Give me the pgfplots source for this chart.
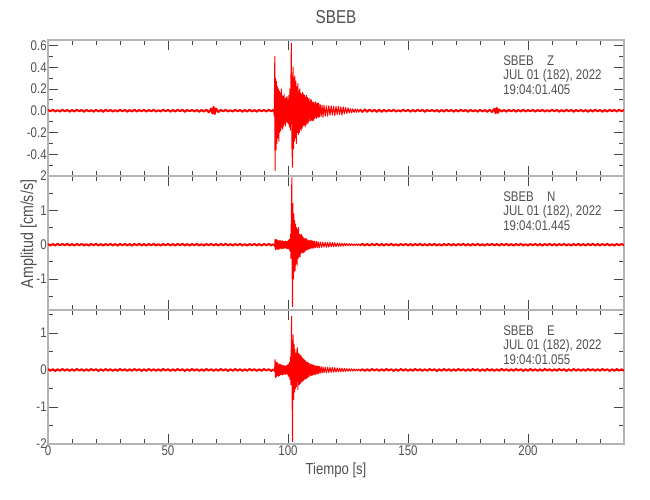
\documentclass[border=0pt]{standalone}
\usepackage{pgfplots}
\pgfplotsset{compat=1.18}
\usepackage{fontspec}
\setmainfont{Liberation Sans}[FakeStretch=0.82]
\definecolor{txt}{RGB}{80,80,80}
\definecolor{axg}{RGB}{180,180,180}
\definecolor{tk}{RGB}{70,70,70}
\pgfplotsset{
  seis/.style={
    scale only axis, width=432pt,
    xmin=0, xmax=240,
    xtick={0,50,100,150,200},
    minor xtick={10,20,30,40,60,70,80,90,110,120,130,140,160,170,180,190,210,220,230},
    xtick pos=both, ytick pos=both, tick align=inside,
    axis line style={axg, line width=1.5pt},
    tick style={tk, line width=0.6pt},
    major tick length=7.5pt, minor tick length=3.75pt,
    tick label style={font=\fontsize{10.5}{12}\selectfont, text=txt},
    yticklabel style={inner sep=0.8pt},
    xticklabel style={inner sep=1.2pt},
    /pgf/number format/assume math mode=true,
  },
  tr/.style={red, line width=0.75pt, no markers, line join=round},
  bl/.style={red, line width=1.5pt, no markers, line join=round}
}
\begin{document}
\begin{tikzpicture}
\useasboundingbox (0,0) rectangle (487.5pt,375pt);
% ---------- Panel 1 (Z) ----------
\begin{axis}[seis, at={(36pt,243pt)}, anchor=south west, height=102pt,
  ymin=-0.6, ymax=0.65,
  ytick={-0.4,-0.2,0,0.2,0.4,0.6},
  minor ytick={-0.5,-0.3,-0.1,0.1,0.3,0.5},
  xticklabels={},
  yticklabel style={/pgf/number format/.cd, fixed, fixed zerofill, precision=1}]
\addplot[bl] coordinates {
(0,0.008)(1,-0.006)(2,0.009)(3,-0.007)(4,0.005)(5,-0.008)(6,0.01)(7,-0.006)(8,0.007)(9,-0.009)(10,0.006)(11,-0.008)(12,0.009)(13,-0.005)(14,0.007)(15,-0.01)(16,0.008)(17,-0.006)(18,0.005)(19,-0.009)(20,0.008)(21,-0.007)(22,0.006)(23,-0.01)(24,0.009)(25,-0.006)(26,0.007)(27,-0.008)(28,0.005)(29,-0.007)(30,0.009)(31,-0.006)(32,0.008)(33,-0.009)(34,0.006)(35,-0.007)(36,0.01)(37,-0.008)(38,0.006)(39,-0.005)(40,0.008)(41,-0.009)(42,0.007)(43,-0.006)(44,0.009)(45,-0.008)(46,0.005)(47,-0.007)(48,0.01)(49,-0.006)(50,0.008)(51,-0.009)(52,0.006)(53,-0.007)(54,0.009)(55,-0.005)(56,0.008)(57,-0.01)(58,0.007)(59,-0.006)(60,0.008)(61,-0.007)(62,0.006)(63,-0.009)(64,0.007)(65,-0.008)(66,0.01)(67,-0.015)(68,0.02)(68.5,-0.025)(69,0.035)(69.5,-0.03)(70,0.02)(71,-0.012)(72,0.008)(73,-0.006)(74,0.009)(75,-0.007)(76,0.005)(77,-0.008)(78,0.009)(79,-0.006)(80,0.007)(81,-0.009)(82,0.006)(83,-0.008)(84,0.01)(85,-0.007)(86,0.006)(87,-0.009)(88,0.008)(89,-0.005)(90,0.007)(91,-0.008)(92,0.009)(93,-0.006)(94,0.01)
};
\addplot[tr] coordinates {
(94,0.01)(94.3,-0.05)(94.5,0.5)(94.6,-0.55)(94.8,0.3)(95,-0.36)(95.2,0.27)(95.4,-0.3)(95.6,0.22)(95.8,-0.25)(96,0.2)(96.2,-0.28)(96.4,0.18)(96.6,-0.2)(96.8,0.16)(97,-0.18)(97.2,0.2)(97.4,-0.15)(97.6,0.14)(97.8,-0.17)(98,0.13)(98.2,-0.14)(98.4,0.15)(98.6,-0.12)(98.8,0.11)(99,-0.14)(99.2,0.12)(99.4,-0.1)(99.6,0.13)(99.8,-0.11)(100,0.1)(100.2,-0.12)(100.4,0.14)(100.6,-0.15)(100.8,0.2)(101,-0.18)(101.2,0.25)(101.4,0.62)(101.6,-0.3)(101.9,-0.52)(102.1,0.4)(102.3,-0.35)(102.5,0.3)(102.7,-0.28)(102.9,0.32)(103.1,-0.25)(103.3,0.27)(103.5,-0.3)(103.7,0.22)(103.9,-0.2)(104.1,0.25)(104.3,-0.22)(104.5,0.18)(104.7,-0.2)(104.9,0.2)(105.1,-0.17)(105.3,0.16)(105.5,-0.18)(105.7,0.15)(105.9,-0.16)(106.1,0.17)(106.3,-0.14)(106.5,0.15)(106.7,-0.13)(106.9,0.14)(107.1,-0.15)(107.3,0.12)(107.5,-0.13)(107.7,0.14)(107.9,-0.11)(108.1,0.12)(108.3,-0.12)(108.5,0.11)(108.8,-0.1)(109.1,0.11)(109.4,-0.09)(109.7,0.1)(110,-0.09)(110.3,0.08)(110.6,-0.09)(110.9,0.08)(111.2,-0.07)(111.5,0.08)(111.8,-0.07)(112.1,0.07)(112.4,-0.06)(112.7,0.07)(113,-0.06)(113.4,0.06)(113.8,-0.055)(114.2,0.05)(114.6,-0.06)(115,0.05)(115.5,-0.05)(116,0.045)(116.5,-0.05)(117,0.045)(117.5,-0.04)(118,0.045)(118.5,-0.04)(119,0.04)(119.5,-0.045)(120,0.04)(120.5,-0.035)(121,0.04)(121.5,-0.035)(122,0.035)(122.5,-0.04)(123,0.035)(123.5,-0.03)(124,0.03)(124.5,-0.025)(125,0.025)(125.5,-0.02)(126,0.02)(126.5,-0.02)(127,0.018)(127.5,-0.017)(128,0.016)(128.5,-0.015)(129,0.015)(129.5,-0.014)(130,0.012)
};
\addplot[bl] coordinates {
(130,0.012)(131,-0.011)(132,0.012)(133,-0.01)(134,0.011)(135,-0.009)(136,0.01)(137,-0.011)(138,0.009)(139,-0.01)(140,0.008)
(141,-0.009)(142,0.007)(143,-0.006)(144,0.009)(145,-0.008)(146,0.005)(147,-0.007)(148,0.01)(149,-0.006)(150,0.008)(151,-0.009)(152,0.006)(153,-0.007)(154,0.009)(155,-0.005)(156,0.008)(157,-0.01)(158,0.007)(159,-0.006)(160,0.008)(161,-0.007)(162,0.006)(163,-0.009)(164,0.007)(165,-0.008)(166,0.01)(167,-0.006)(168,0.007)(169,-0.009)(170,0.006)(171,-0.008)(172,0.009)(173,-0.005)(174,0.007)(175,-0.01)(176,0.008)(177,-0.006)(178,0.005)(179,-0.009)(180,0.008)(181,-0.007)(182,0.006)(183,-0.01)(184,0.009)(185,-0.012)(186,0.018)(186.5,-0.022)(187,0.025)(187.5,-0.02)(188,0.012)(189,-0.008)(190,0.006)(191,-0.009)(192,0.007)(193,-0.006)(194,0.008)(195,-0.009)(196,0.006)(197,-0.007)(198,0.01)(199,-0.008)(200,0.006)(201,-0.005)(202,0.008)(203,-0.009)(204,0.007)(205,-0.006)(206,0.009)(207,-0.008)(208,0.005)(209,-0.007)(210,0.01)(211,-0.006)(212,0.008)(213,-0.009)(214,0.006)(215,-0.007)(216,0.009)(217,-0.005)(218,0.008)(219,-0.01)(220,0.007)(221,-0.006)(222,0.008)(223,-0.007)(224,0.006)(225,-0.009)(226,0.007)(227,-0.008)(228,0.01)(229,-0.006)(230,0.007)(231,-0.009)(232,0.006)(233,-0.008)(234,0.009)(235,-0.005)(236,0.007)(237,-0.008)(238,0.009)(239,-0.006)(240,0.008)
};
\end{axis}
% ---------- Panel 2 (N) ----------
\begin{axis}[seis, at={(36pt,142.5pt)}, anchor=south west, height=100.5pt,
  ymin=-1.9, ymax=2,
  ytick={-1,0,1,2},
  minor ytick={-1.5,-0.5,0.5,1.5},
  xticklabels={}]
\addplot[bl] coordinates {
(0,0.02)(1,-0.025)(2,0.018)(3,-0.022)(4,0.028)(5,-0.02)(6,0.024)(7,-0.017)(8,0.026)(9,-0.023)(10,0.019)(11,-0.027)(12,0.022)(13,-0.018)(14,0.025)(15,-0.021)(16,0.017)(17,-0.026)(18,0.023)(19,-0.019)(20,0.027)(21,-0.022)(22,0.018)(23,-0.025)(24,0.021)(25,-0.017)(26,0.026)(27,-0.023)(28,0.02)(29,-0.028)(30,0.022)(31,-0.018)(32,0.025)(33,-0.021)(34,0.019)(35,-0.026)(36,0.023)(37,-0.017)(38,0.027)(39,-0.022)(40,0.018)(41,-0.025)(42,0.021)(43,-0.019)(44,0.026)(45,-0.023)(46,0.017)(47,-0.027)(48,0.022)(49,-0.018)(50,0.025)(51,-0.021)(52,0.019)(53,-0.026)(54,0.023)(55,-0.017)(56,0.027)(57,-0.022)(58,0.018)(59,-0.025)(60,0.021)(61,-0.019)(62,0.026)(63,-0.023)(64,0.017)(65,-0.027)(66,0.022)(67,-0.018)(68,0.025)(69,-0.021)(70,0.019)(71,-0.026)(72,0.023)(73,-0.017)(74,0.027)(75,-0.022)(76,0.018)(77,-0.025)(78,0.021)(79,-0.019)(80,0.026)(81,-0.023)(82,0.017)(83,-0.027)(84,0.022)(85,-0.018)(86,0.025)(87,-0.021)(88,0.019)(89,-0.026)(90,0.023)(91,-0.017)(92,0.027)(93,-0.022)(94,0.02)
};
\addplot[tr] coordinates {
(94,0.02)(94.4,-0.06)(94.6,0.16)(94.8,-0.15)(95,0.14)(95.2,-0.12)(95.4,0.15)(95.6,-0.13)(95.8,0.12)(96,-0.14)(96.2,0.11)(96.4,-0.12)(96.6,0.13)(96.8,-0.1)(97,0.11)(97.2,-0.12)(97.4,0.1)(97.6,-0.11)(97.8,0.12)(98,-0.1)(98.2,0.09)(98.4,-0.11)(98.6,0.1)(98.8,-0.09)(99,0.1)(99.2,-0.1)(99.4,0.09)(99.6,-0.12)(99.8,0.1)(100,-0.11)(100.2,0.13)(100.4,-0.12)(100.6,0.15)(100.8,-0.18)(101,0.3)(101.2,-0.4)(101.4,0.9)(101.6,1.95)(101.8,-1.5)(101.9,-1.8)(102,1.2)(102.2,-1.0)(102.4,0.9)(102.6,-0.8)(102.8,0.7)(103,-0.75)(103.2,0.6)(103.4,-0.55)(103.6,0.5)(103.8,-0.6)(104,0.45)(104.2,-0.4)(104.4,0.5)(104.6,-0.35)(104.8,0.3)(105,-0.35)(105.2,0.28)(105.4,-0.25)(105.6,0.3)(105.8,-0.22)(106,0.25)(106.2,-0.24)(106.4,0.2)(106.6,-0.22)(106.8,0.18)(107,-0.2)(107.2,0.17)(107.4,-0.16)(107.6,0.18)(107.8,-0.15)(108,0.14)(108.3,-0.15)(108.6,0.13)(108.9,-0.12)(109.2,0.13)(109.5,-0.11)(109.8,0.12)(110.1,-0.1)(110.4,0.11)(110.7,-0.1)(111,0.1)(111.4,-0.09)(111.8,0.1)(112.2,-0.09)(112.6,0.08)(113,-0.09)(113.5,0.08)(114,-0.08)(114.5,0.075)(115,-0.07)(115.5,0.07)(116,-0.075)(116.5,0.065)(117,-0.07)(117.5,0.065)(118,-0.06)(118.5,0.065)(119,-0.06)(119.5,0.06)(120,-0.055)(120.5,0.05)(121,-0.05)(121.5,0.045)(122,-0.045)(122.5,0.04)(123,-0.04)(123.5,0.04)(124,-0.035)(124.5,0.035)(125,-0.03)(125.5,0.03)(126,-0.03)(126.5,0.028)(127,-0.027)(127.5,0.025)(128,-0.025)(128.5,0.025)(129,-0.023)(129.5,0.022)(130,-0.022)
};
\addplot[bl] coordinates {
(130,-0.022)(131,0.025)(132,-0.021)(133,0.019)(134,-0.026)(135,0.023)(136,-0.017)(137,0.027)(138,-0.022)(139,0.018)(140,-0.025)(141,0.021)(142,-0.019)(143,0.026)(144,-0.023)(145,0.017)(146,-0.027)(147,0.022)(148,-0.018)(149,0.025)(150,-0.021)(151,0.019)(152,-0.026)(153,0.023)(154,-0.017)(155,0.027)(156,-0.022)(157,0.018)(158,-0.025)(159,0.021)(160,-0.019)(161,0.026)(162,-0.023)(163,0.017)(164,-0.027)(165,0.022)(166,-0.018)(167,0.025)(168,-0.021)(169,0.019)(170,-0.026)(171,0.023)(172,-0.017)(173,0.027)(174,-0.022)(175,0.018)(176,-0.025)(177,0.021)(178,-0.019)(179,0.026)(180,-0.023)(181,0.017)(182,-0.027)(183,0.022)(184,-0.018)(185,0.025)(186,-0.021)(187,0.019)(188,-0.026)(189,0.023)(190,-0.017)(191,0.027)(192,-0.022)(193,0.018)(194,-0.025)(195,0.021)(196,-0.019)(197,0.026)(198,-0.023)(199,0.017)(200,-0.027)(201,0.022)(202,-0.018)(203,0.025)(204,-0.021)(205,0.019)(206,-0.026)(207,0.023)(208,-0.017)(209,0.027)(210,-0.022)(211,0.018)(212,-0.025)(213,0.021)(214,-0.019)(215,0.026)(216,-0.023)(217,0.017)(218,-0.027)(219,0.022)(220,-0.018)(221,0.025)(222,-0.021)(223,0.019)(224,-0.026)(225,0.023)(226,-0.017)(227,0.027)(228,-0.022)(229,0.018)(230,-0.025)(231,0.021)(232,-0.019)(233,0.026)(234,-0.023)(235,0.017)(236,-0.027)(237,0.022)(238,-0.018)(239,0.025)(240,-0.021)
};
\end{axis}
% ---------- Panel 3 (E) ----------
\begin{axis}[seis, at={(36pt,42pt)}, anchor=south west, height=100.5pt,
  ymin=-2, ymax=1.62,
  ytick={-2,-1,0,1},
  minor ytick={-1.5,-0.5,0.5,1.5}]
\addplot[bl] coordinates {
(0,0.025)(1,-0.02)(2,0.023)(3,-0.027)(4,0.018)(5,-0.022)(6,0.026)(7,-0.019)(8,0.021)(9,-0.025)(10,0.017)(11,-0.023)(12,0.027)(13,-0.018)(14,0.022)(15,-0.026)(16,0.019)(17,-0.021)(18,0.025)(19,-0.017)(20,0.023)(21,-0.027)(22,0.018)(23,-0.022)(24,0.026)(25,-0.019)(26,0.021)(27,-0.025)(28,0.017)(29,-0.023)(30,0.027)(31,-0.018)(32,0.022)(33,-0.026)(34,0.019)(35,-0.021)(36,0.025)(37,-0.017)(38,0.023)(39,-0.027)(40,0.018)(41,-0.022)(42,0.026)(43,-0.019)(44,0.021)(45,-0.025)(46,0.017)(47,-0.023)(48,0.027)(49,-0.018)(50,0.022)(51,-0.026)(52,0.019)(53,-0.021)(54,0.025)(55,-0.017)(56,0.023)(57,-0.027)(58,0.018)(59,-0.022)(60,0.026)(61,-0.019)(62,0.021)(63,-0.025)(64,0.017)(65,-0.023)(66,0.027)(67,-0.018)(68,0.022)(69,-0.026)(70,0.019)(71,-0.021)(72,0.025)(73,-0.017)(74,0.023)(75,-0.027)(76,0.018)(77,-0.022)(78,0.026)(79,-0.019)(80,0.021)(81,-0.025)(82,0.017)(83,-0.023)(84,0.027)(85,-0.018)(86,0.022)(87,-0.026)(88,0.019)(89,-0.021)(90,0.025)(91,-0.017)(92,0.023)(93,-0.027)(94,0.02)
};
\addplot[tr] coordinates {
(94,0.02)(94.4,-0.05)(94.6,0.28)(94.8,-0.21)(95,0.2)(95.2,-0.18)(95.4,0.22)(95.6,-0.15)(95.8,0.18)(96,-0.17)(96.2,0.14)(96.4,-0.15)(96.6,0.16)(96.8,-0.13)(97,0.14)(97.2,-0.12)(97.4,0.13)(97.6,-0.14)(97.8,0.11)(98,-0.12)(98.2,0.12)(98.4,-0.1)(98.6,0.11)(98.8,-0.12)(99,0.1)(99.2,-0.11)(99.4,0.12)(99.6,-0.1)(99.8,0.13)(100,-0.14)(100.2,0.15)(100.4,-0.18)(100.6,0.2)(100.8,-0.25)(101,0.35)(101.2,-0.4)(101.5,1.45)(101.7,-0.6)(101.9,-1.93)(102.1,0.95)(102.3,-0.8)(102.5,0.7)(102.7,-0.6)(102.9,0.55)(103.1,-0.5)(103.3,0.45)(103.5,-0.45)(103.7,0.5)(103.9,0.6)(104.1,-0.53)(104.3,0.45)(104.5,-0.4)(104.7,0.42)(104.9,-0.38)(105.1,0.4)(105.3,-0.35)(105.5,0.38)(105.7,-0.32)(105.9,0.33)(106.1,-0.3)(106.3,0.3)(106.5,-0.28)(106.7,0.28)(106.9,-0.25)(107.1,0.26)(107.3,-0.24)(107.5,0.22)(107.7,-0.23)(107.9,0.21)(108.1,-0.2)(108.3,0.2)(108.5,-0.19)(108.8,0.18)(109.1,-0.17)(109.4,0.16)(109.7,-0.15)(110,0.15)(110.3,-0.14)(110.6,0.13)(110.9,-0.13)(111.2,0.12)(111.5,-0.12)(111.8,0.11)(112.1,-0.11)(112.4,0.1)(112.7,-0.1)(113,0.1)(113.4,-0.09)(113.8,0.09)(114.2,-0.085)(114.6,0.08)(115,-0.08)(115.5,0.075)(116,-0.075)(116.5,0.07)(117,-0.07)(117.5,0.07)(118,-0.065)(118.5,0.065)(119,-0.06)(119.5,0.06)(120,-0.06)(120.5,0.055)(121,-0.055)(121.5,0.05)(122,-0.05)(122.5,0.045)(123,-0.045)(123.5,0.04)(124,-0.04)(124.5,0.038)(125,-0.035)(125.5,0.033)(126,-0.032)(126.5,0.03)(127,-0.03)(127.5,0.028)(128,-0.027)(128.5,0.026)(129,-0.025)(129.5,0.024)(130,-0.023)
};
\addplot[bl] coordinates {
(130,-0.023)(131,0.02)(132,-0.025)(133,0.017)(134,-0.023)(135,0.027)(136,-0.018)(137,0.022)(138,-0.026)(139,0.019)(140,-0.021)(141,0.025)(142,-0.017)(143,0.023)(144,-0.027)(145,0.018)(146,-0.022)(147,0.026)(148,-0.019)(149,0.021)(150,-0.025)(151,0.017)(152,-0.023)(153,0.027)(154,-0.018)(155,0.022)(156,-0.026)(157,0.019)(158,-0.021)(159,0.025)(160,-0.017)(161,0.023)(162,-0.027)(163,0.018)(164,-0.022)(165,0.026)(166,-0.019)(167,0.021)(168,-0.025)(169,0.017)(170,-0.023)(171,0.027)(172,-0.018)(173,0.022)(174,-0.026)(175,0.019)(176,-0.021)(177,0.025)(178,-0.017)(179,0.023)(180,-0.027)(181,0.018)(182,-0.022)(183,0.026)(184,-0.019)(185,0.021)(186,-0.025)(187,0.017)(188,-0.023)(189,0.027)(190,-0.018)(191,0.022)(192,-0.026)(193,0.019)(194,-0.021)(195,0.025)(196,-0.017)(197,0.023)(198,-0.027)(199,0.018)(200,-0.022)(201,0.026)(202,-0.019)(203,0.021)(204,-0.025)(205,0.017)(206,-0.023)(207,0.027)(208,-0.018)(209,0.022)(210,-0.026)(211,0.019)(212,-0.021)(213,0.025)(214,-0.017)(215,0.023)(216,-0.027)(217,0.018)(218,-0.022)(219,0.026)(220,-0.019)(221,0.021)(222,-0.025)(223,0.017)(224,-0.023)(225,0.027)(226,-0.018)(227,0.022)(228,-0.026)(229,0.019)(230,-0.021)(231,0.025)(232,-0.017)(233,0.023)(234,-0.027)(235,0.018)(236,-0.022)(237,0.026)(238,-0.019)(239,0.021)(240,-0.025)
};
\end{axis}
% ---------- Texts ----------
\begin{scope}[every node/.style={text=txt, inner sep=0pt}]
\node[font=\fontsize{14}{16}\selectfont] at (252pt,362pt) {SBEB};
\node[font=\fontsize{12}{14}\selectfont] at (252pt,22.5pt) {Tiempo [s]};
\node[font=\fontsize{13}{15}\selectfont, rotate=90] at (21.5pt,199.5pt) {Amplitud [cm/s/s]};
\begin{scope}[every node/.append style={anchor=base west, font=\fontsize{10.5}{12}\selectfont}]
\node at (377.25pt,325.5pt) {SBEB\hspace{10pt}Z};
\node at (377.25pt,315pt) {JUL 01 (182), 2022};
\node at (377.25pt,304.3pt) {19:04:01.405};
\node at (377.25pt,223.5pt) {SBEB\hspace{10pt}N};
\node at (377.25pt,213pt) {JUL 01 (182), 2022};
\node at (377.25pt,202.3pt) {19:04:01.445};
\node at (377.25pt,123pt) {SBEB\hspace{10pt}E};
\node at (377.25pt,112.5pt) {JUL 01 (182), 2022};
\node at (377.25pt,101.8pt) {19:04:01.055};
\end{scope}
\end{scope}
\end{tikzpicture}
\end{document}
